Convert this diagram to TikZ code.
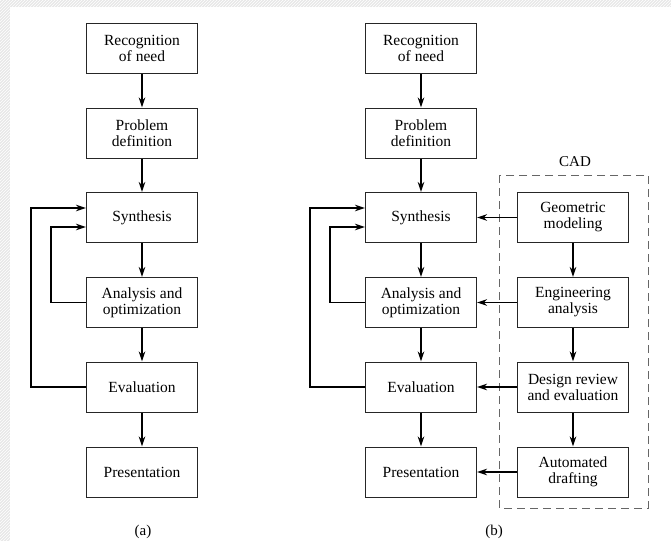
\documentclass[tikz,border=0pt]{standalone}
\usepackage{fontspec}
\setmainfont{Liberation Serif}
\usetikzlibrary{arrows.meta,patterns}
\begin{document}
\begin{tikzpicture}[x=1pt,y=-1pt,
  box/.style={draw=black!85,line width=1pt,fill=white,minimum width=111pt,minimum height=50pt,
    align=center,inner sep=2pt,font=\fontsize{15.5}{16}\selectfont},
  arr/.style={line width=1.6pt,-{Stealth[length=10pt,width=6.5pt]}},
  fb/.style={line width=1.6pt,-{Stealth[length=10pt,width=6.5pt]}},
  lbl/.style={font=\fontsize{15}{16}\selectfont}]
\useasboundingbox (0,0) rectangle (671,541);
\fill[gray!18] (0,0) rectangle (671,541);
\fill[pattern=north east lines,pattern color=white] (0,0) rectangle (671,541);
\fill[white] (10,7) rectangle (671,541);

% column (a)
\node[box] (a1) at (142,48.5) {Recognition\\of need};
\node[box] (a2) at (142,133) {Problem\\definition};
\node[box] (a3) at (142,217.5) {Synthesis};
\node[box] (a4) at (142,302.5) {Analysis and\\optimization};
\node[box] (a5) at (142,387) {Evaluation};
\node[box] (a6) at (142,472) {Presentation};
\draw[arr] (a1) -- (a2);
\draw[arr] (a2) -- (a3);
\draw[arr] (a3) -- (a4);
\draw[arr] (a4) -- (a5);
\draw[arr] (a5) -- (a6);
\coordinate (ai) at (51,0);
\coordinate (ao) at (31,0);
\draw[fb] (a4.west) -| ([yshift=-9.5pt]ai |- a3.west) -- ([yshift=-9.5pt]a3.west);
\draw[fb] (a5.west) -| ([yshift=9.5pt]ao |- a3.west) -- ([yshift=9.5pt]a3.west);
\node[lbl] (la) at (143,532) {(a)};

% column (b)
\node[box] (b1) at (421,48.5) {Recognition\\of need};
\node[box] (b2) at (421,133) {Problem\\definition};
\node[box] (b3) at (421,217.5) {Synthesis};
\node[box] (b4) at (421,302.5) {Analysis and\\optimization};
\node[box] (b5) at (421,387) {Evaluation};
\node[box] (b6) at (421,472) {Presentation};
\draw[arr] (b1) -- (b2);
\draw[arr] (b2) -- (b3);
\draw[arr] (b3) -- (b4);
\draw[arr] (b4) -- (b5);
\draw[arr] (b5) -- (b6);
\coordinate (bi) at (330,0);
\coordinate (bo) at (310,0);
\draw[fb] (b4.west) -| ([yshift=-9.5pt]bi |- b3.west) -- ([yshift=-9.5pt]b3.west);
\draw[fb] (b5.west) -| ([yshift=9.5pt]bo |- b3.west) -- ([yshift=9.5pt]b3.west);

% CAD
\draw[gray!80!black,line width=1pt,dash pattern=on 8pt off 5pt] (499,175) rectangle (648,508);
\node[lbl] (cad) at (575,162) {CAD};
\node[box] (c1) at (573,217.5) {Geometric\\modeling};
\node[box] (c2) at (573,302.5) {Engineering\\analysis};
\node[box] (c3) at (573,387) {Design review\\and evaluation};
\node[box] (c4) at (573,472) {Automated\\drafting};
\draw[arr] (c1) -- (c2);
\draw[arr] (c2) -- (c3);
\draw[arr] (c3) -- (c4);
\draw[arr] (c1) -- (b3);
\draw[arr] (c2) -- (b4);
\draw[arr] (c3) -- (b5);
\draw[arr] (c4) -- (b6);
\node[lbl] (lb) at (494,532) {(b)};
\end{tikzpicture}
\end{document}
